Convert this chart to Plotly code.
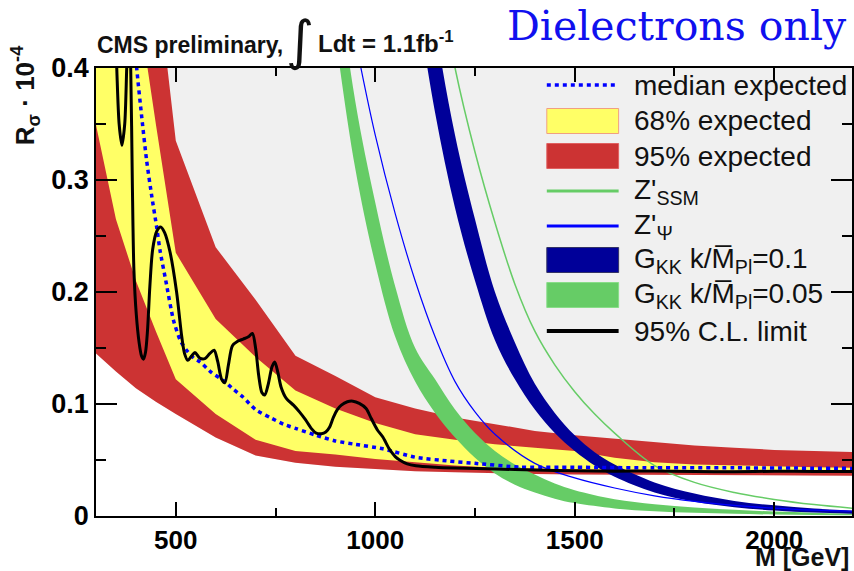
import plotly.graph_objects as go

# ---------------- data ----------------
band_m = [300, 350, 400, 450, 500, 600, 700, 800, 900, 1000, 1100, 1200, 1300,
          1400, 1500, 1600, 1700, 1800, 1900, 2000, 2100, 2200]
exp95_lo = [0.145, 0.129, 0.114, 0.102, 0.091, 0.070, 0.054, 0.0475, 0.044, 0.042, 0.040,
            0.039, 0.038, 0.0375, 0.037, 0.0368, 0.0365, 0.0363, 0.0362, 0.036, 0.036, 0.036]
exp68_lo = [0.349, 0.265, 0.21, 0.165, 0.122, 0.091, 0.068, 0.058, 0.055, 0.051, 0.048,
            0.045, 0.043, 0.042, 0.0415, 0.0412, 0.041, 0.0408, 0.0405, 0.0405, 0.0402, 0.040]
exp68_hi = [0.70, 0.58, 0.47, 0.35, 0.235, 0.176, 0.142, 0.112, 0.096, 0.083, 0.073,
            0.068, 0.064, 0.061, 0.058, 0.052, 0.048, 0.046, 0.045, 0.044, 0.0435, 0.043]
exp95_hi = [1.0, 0.82, 0.65, 0.49, 0.335, 0.24, 0.193, 0.143, 0.125, 0.106, 0.096,
            0.088, 0.082, 0.076, 0.072, 0.069, 0.066, 0.063, 0.061, 0.059, 0.058, 0.057]

med_m = [300, 380, 402, 415, 427, 440, 452, 461, 475, 494, 511, 527, 545, 561, 590, 619,
         645, 669, 700, 736, 770, 802, 852, 900, 950, 1019, 1100, 1186, 1250, 1361, 1500,
         1700, 1900, 2200]
med = [0.9, 0.5, 0.4, 0.355, 0.317, 0.285, 0.258, 0.236, 0.21, 0.175, 0.157, 0.148, 0.141,
       0.1375, 0.128, 0.121, 0.113, 0.106, 0.095, 0.088, 0.082, 0.078, 0.072, 0.067, 0.064,
       0.060, 0.0525, 0.049, 0.047, 0.0437, 0.0435, 0.043, 0.043, 0.0425]

obs_m = [330, 345, 352, 358, 365, 372, 377, 382, 387, 391, 395, 401, 408, 414, 419, 424,
         429, 435, 442, 452, 462, 472, 486, 502, 515, 522, 530, 540, 548, 560, 573, 585,
         596, 605, 615, 623, 632, 642, 655, 669, 682, 692, 700, 708, 716, 723, 732, 741,
         748, 756, 764, 777, 795, 810, 825, 840, 852, 865, 876, 885, 895, 905, 915, 930,
         944, 960, 977, 990, 1005, 1019, 1035, 1050, 1061, 1080, 1102, 1150, 1200, 1300,
         1400, 1500, 1600, 1700, 1800, 1900, 2000, 2100, 2200]
obs = [0.70, 0.48, 0.40, 0.35, 0.331, 0.35, 0.40, 0.45, 0.40, 0.30, 0.22, 0.18, 0.155,
       0.143, 0.14, 0.146, 0.165, 0.205, 0.238, 0.254, 0.258, 0.253, 0.235, 0.20, 0.16,
       0.145, 0.139, 0.143, 0.146, 0.141, 0.1405, 0.145, 0.148, 0.138, 0.122, 0.119, 0.135,
       0.152, 0.156, 0.158, 0.16, 0.163, 0.15, 0.125, 0.110, 0.108, 0.118, 0.133, 0.1375,
       0.128, 0.115, 0.105, 0.099, 0.093, 0.086, 0.078, 0.074, 0.0735, 0.075, 0.079, 0.088,
       0.095, 0.099, 0.102, 0.1025, 0.1005, 0.096, 0.087, 0.077, 0.0705, 0.060, 0.053, 0.050,
       0.0465, 0.0448, 0.0435, 0.0428, 0.042, 0.041, 0.0405, 0.040, 0.0402, 0.0398, 0.0395,
       0.040, 0.0398, 0.0398]

zssm_m = [1100, 1150, 1200, 1250, 1300, 1350, 1400, 1450, 1500, 1550, 1600, 1700, 1800,
          1900, 2000, 2100, 2200]
zssm = [0.63, 0.50, 0.40, 0.325, 0.262, 0.207, 0.165, 0.135, 0.111, 0.091, 0.074, 0.045,
        0.030, 0.021, 0.0148, 0.0102, 0.0068]

zpsi_m = [900, 950, 1000, 1050, 1100, 1150, 1200, 1250, 1300, 1400, 1500, 1600, 1700,
          1800, 1900, 2000, 2100, 2200]
zpsi = [0.52, 0.425, 0.34, 0.27, 0.21, 0.16, 0.12, 0.093, 0.073, 0.047, 0.034, 0.025,
        0.018, 0.013, 0.0095, 0.007, 0.0052, 0.0042]

g005_m = [850, 900, 950, 1000, 1050, 1100, 1150, 1200, 1250, 1300, 1350, 1400, 1450, 1500,
          1600, 1700, 1800, 1900, 2000, 2100, 2200]
g005_lo = [0.58, 0.43, 0.31, 0.225, 0.16, 0.12, 0.092, 0.070, 0.052, 0.038, 0.028, 0.021,
           0.0155, 0.0115, 0.0068, 0.0042, 0.0028, 0.0019, 0.0013, 0.0009, 0.0007]
g005_hi = [0.66, 0.50, 0.37, 0.28, 0.205, 0.15, 0.122, 0.095, 0.074, 0.058, 0.046, 0.037,
           0.029, 0.023, 0.015, 0.0105, 0.0075, 0.0055, 0.004, 0.003, 0.0022]

g01_m = [1100, 1150, 1200, 1250, 1300, 1350, 1400, 1450, 1500, 1550, 1600, 1700, 1800,
         1900, 2000, 2100, 2200]
g01_lo = [0.47, 0.36, 0.275, 0.21, 0.157, 0.122, 0.095, 0.074, 0.058, 0.045, 0.035, 0.021,
          0.0128, 0.0079, 0.0049, 0.0031, 0.002]
g01_hi = [0.58, 0.44, 0.34, 0.265, 0.20, 0.155, 0.118, 0.092, 0.072, 0.057, 0.046, 0.030,
          0.020, 0.0135, 0.0095, 0.0067, 0.0048]

legend_labels = ["median expected", "68% expected", "95% expected",
                 "Z'<sub>SSM</sub>", "Z'<sub>Ψ</sub>",
                 "G<sub>KK</sub> k/M̅<sub>Pl</sub>=0.1",
                 "G<sub>KK</sub> k/M̅<sub>Pl</sub>=0.05",
                 "95% C.L. limit"]

# ---------------- colours ----------------
RED = "#cc3333"
YEL = "#ffff66"
GRN = "#66cc66"
NAVY = "#000099"
BLUE = "#0000ff"
GREY = "#f0f0f0"

fig = go.Figure()
nl = dict(width=0)

# white area below 95% band, then bands
fig.add_trace(go.Scatter(x=band_m, y=exp95_lo, mode="lines", line=nl, fill="tozeroy",
                         fillcolor="white", hoverinfo="skip", showlegend=False))
fig.add_trace(go.Scatter(x=band_m, y=exp95_hi, mode="lines", line=nl, fill="tonexty",
                         fillcolor=RED, name="95% expected", showlegend=False))
fig.add_trace(go.Scatter(x=band_m, y=exp68_lo, mode="lines", line=nl,
                         hoverinfo="skip", showlegend=False))
fig.add_trace(go.Scatter(x=band_m, y=exp68_hi, mode="lines", line=nl, fill="tonexty",
                         fillcolor=YEL, name="68% expected", showlegend=False))

# signal models
fig.add_trace(go.Scatter(x=g005_m, y=g005_lo, mode="lines", line=dict(width=0, shape="spline"),
                         hoverinfo="skip", showlegend=False))
fig.add_trace(go.Scatter(x=g005_m, y=g005_hi, mode="lines", line=dict(width=0, shape="spline"),
                         fill="tonexty", fillcolor=GRN, name="G_KK 0.05", showlegend=False))
fig.add_trace(go.Scatter(x=g01_m, y=g01_lo, mode="lines", line=dict(width=0, shape="spline"),
                         hoverinfo="skip", showlegend=False))
fig.add_trace(go.Scatter(x=g01_m, y=g01_hi, mode="lines", line=dict(width=0, shape="spline"),
                         fill="tonexty", fillcolor=NAVY, name="G_KK 0.1", showlegend=False))
fig.add_trace(go.Scatter(x=zssm_m, y=zssm, mode="lines", name="Z'SSM",
                         line=dict(color=GRN, width=1.5, shape="spline"), showlegend=False))
fig.add_trace(go.Scatter(x=zpsi_m, y=zpsi, mode="lines", name="Z'Psi",
                         line=dict(color=BLUE, width=1.2, shape="spline"), showlegend=False))

# expected median and observed
fig.add_trace(go.Scatter(x=med_m, y=med, mode="lines", name="median expected",
                         line=dict(color=BLUE, width=3.5, dash="4px,4px", shape="spline",
                                   smoothing=0.6), showlegend=False))
fig.add_trace(go.Scatter(x=obs_m, y=obs, mode="lines", name="95% C.L. limit",
                         line=dict(color="black", width=3, shape="spline", smoothing=0.8),
                         showlegend=False))

# ---------------- layout ----------------
W, H = 854, 571
ML, MR, MT, MB = 96, 0, 68, 55
PW, PH = W - ML - MR, H - MT - MB


def px(x):
    return (x - ML) / PW


def py(y):
    return (H - MB - y) / PH


xtickfont = dict(family="Liberation Sans", size=26, color="black", weight="bold")
ytickfont = dict(family="Liberation Sans", size=27, color="black", weight="bold")
fig.update_layout(
    width=W, height=H, margin=dict(l=ML, r=MR, t=MT, b=MB),
    paper_bgcolor="white", plot_bgcolor=GREY,
    font=dict(family="Liberation Sans", color="black"),
    showlegend=False,
    xaxis=dict(range=[300, 2195], showline=True, linecolor="black", linewidth=1.5,
               mirror="ticks", ticks="inside", ticklen=14, tickwidth=1.5, tickcolor="black",
               tick0=0, dtick=500, showgrid=False, zeroline=False, tickfont=xtickfont,
               minor=dict(dtick=250, ticks="inside", ticklen=8, tickwidth=1.5,
                          tickcolor="black", showgrid=False)),
    yaxis=dict(range=[0, 0.4], showline=True, linecolor="black", linewidth=1.5,
               mirror="ticks", ticks="inside", ticklen=21, tickwidth=1.5, tickcolor="black",
               tick0=0, dtick=0.1, showgrid=False, zeroline=False, tickfont=ytickfont,
               minor=dict(dtick=0.05, ticks="inside", ticklen=10, tickwidth=1.5,
                          tickcolor="black", showgrid=False)),
)

ann = []
shapes = []
# top texts
ann.append(dict(text="CMS preliminary,", x=px(95), y=py(45), xref="paper", yref="paper",
                xanchor="left", yanchor="middle", showarrow=False,
                font=dict(size=23, weight="bold", color="#111")))
ann.append(dict(text="∫", x=px(301), y=py(40), xref="paper", yref="paper",
                xanchor="center", yanchor="middle", showarrow=False,
                font=dict(size=54, family="DejaVu Sans", color="#111")))
ann.append(dict(text="Ldt = 1.1fb<sup>-1</sup>", x=px(317), y=py(42), xref="paper",
                yref="paper", xanchor="left", yanchor="middle", showarrow=False,
                font=dict(size=24, weight="bold", color="#111")))
ann.append(dict(text="Dielectrons only", x=px(506), y=py(26), xref="paper", yref="paper",
                xanchor="left", yanchor="middle", showarrow=False,
                font=dict(size=41, family="DejaVu Serif", color="#1010ee")))
ann.append(dict(text="R<sub>σ</sub> · 10<sup>-4</sup>", x=px(25), y=py(95), xref="paper",
                yref="paper", xanchor="center", yanchor="middle", textangle=-90,
                showarrow=False, font=dict(size=26, weight="bold", color="#111")))
ann.append(dict(text="M [GeV]", x=px(853), y=py(557), xref="paper", yref="paper",
                xanchor="right", yanchor="middle", showarrow=False,
                font=dict(size=25, weight="bold", color="#111")))

# custom legend
rows = [85, 121, 156, 191, 226, 260, 295, 331]
sx0, sx1, tx = 548, 620, 633
kinds = [("line", BLUE, 3.5, "dot"), ("box", YEL, "#f0a080", None), ("box", RED, "#e06060", None),
         ("line", GRN, 3, None), ("line", BLUE, 3, None), ("box", NAVY, "#333366", None),
         ("box", GRN, "#88dd88", None), ("line", "black", 4, None)]
for yc, lab, k in zip(rows, legend_labels, kinds):
    if k[0] == "line":
        shapes.append(dict(type="line", xref="paper", yref="paper", x0=px(sx0), x1=px(sx1),
                           y0=py(yc), y1=py(yc),
                           line=dict(color=k[1], width=k[2],
                                     dash="4px,4px" if k[3] else "solid")))
    else:
        shapes.append(dict(type="rect", xref="paper", yref="paper", x0=px(sx0), x1=px(sx1),
                           y0=py(yc - 12.5), y1=py(yc + 12.5), fillcolor=k[1],
                           line=dict(color=k[2], width=1)))
    ann.append(dict(text=lab, x=px(tx), y=py(yc), xref="paper", yref="paper",
                    xanchor="left", yanchor="middle", showarrow=False,
                    font=dict(size=28, color="#111")))

fig.update_layout(annotations=ann, shapes=shapes)
fig.write_html("out.html", config={"displayModeBar": False})
